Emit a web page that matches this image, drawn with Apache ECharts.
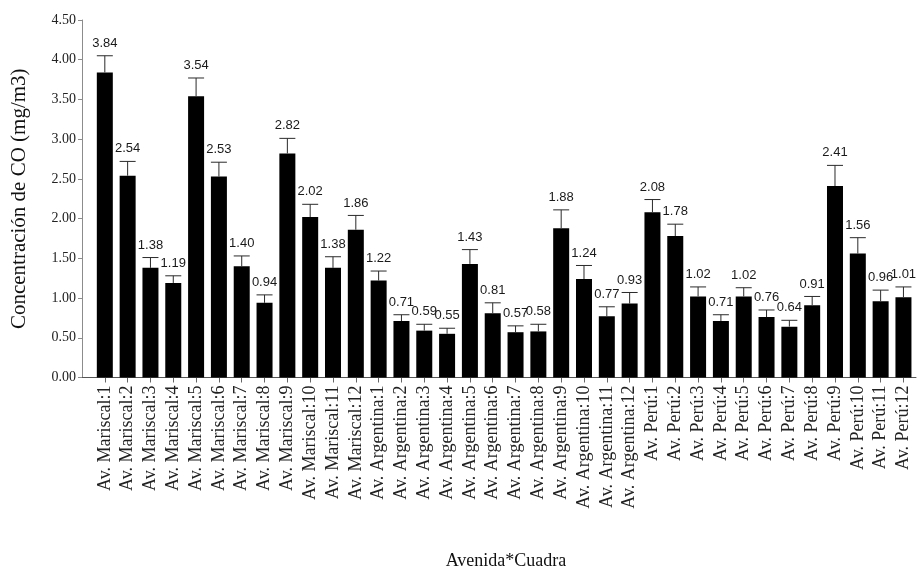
<!DOCTYPE html>
<html>
<head>
<meta charset="utf-8">
<script src="https://cdn.jsdelivr.net/npm/echarts@6/dist/echarts.min.js"></script>
<style>
  html, body { margin: 0; padding: 0; background: #fff; }
  #chart { width: 919px; height: 568px; }
</style>
</head>
<body>
<div id="chart"></div>
<script>
// Street/block combinations (Avenida*Cuadra)
const categories = [
  'Av. Mariscal:1', 'Av. Mariscal:2', 'Av. Mariscal:3', 'Av. Mariscal:4',
  'Av. Mariscal:5', 'Av. Mariscal:6', 'Av. Mariscal:7', 'Av. Mariscal:8',
  'Av. Mariscal:9', 'Av. Mariscal:10', 'Av. Mariscal:11', 'Av. Mariscal:12',
  'Av. Argentina:1', 'Av. Argentina:2', 'Av. Argentina:3', 'Av. Argentina:4',
  'Av. Argentina:5', 'Av. Argentina:6', 'Av. Argentina:7', 'Av. Argentina:8',
  'Av. Argentina:9', 'Av. Argentina:10', 'Av. Argentina:11', 'Av. Argentina:12',
  'Av. Perú:1', 'Av. Perú:2', 'Av. Perú:3', 'Av. Perú:4',
  'Av. Perú:5', 'Av. Perú:6', 'Av. Perú:7', 'Av. Perú:8',
  'Av. Perú:9', 'Av. Perú:10', 'Av. Perú:11', 'Av. Perú:12'
];

// Mean CO concentration (mg/m3)
const meanCO = [
  3.84, 2.54, 1.38, 1.19, 3.54, 2.53, 1.40, 0.94, 2.82, 2.02, 1.38, 1.86,
  1.22, 0.71, 0.59, 0.55, 1.43, 0.81, 0.57, 0.58, 1.88, 1.24, 0.77, 0.93,
  2.08, 1.78, 1.02, 0.71, 1.02, 0.76, 0.64, 0.91, 2.41, 1.56, 0.96, 1.01
];

// Upper error (standard error) for each mean
const errorCO = [
  0.21, 0.18, 0.13, 0.09, 0.23, 0.18, 0.13, 0.10, 0.19, 0.16, 0.14, 0.18,
  0.12, 0.08, 0.08, 0.07, 0.18, 0.13, 0.08, 0.09, 0.23, 0.17, 0.12, 0.14,
  0.16, 0.15, 0.12, 0.08, 0.11, 0.09, 0.08, 0.11, 0.26, 0.20, 0.14, 0.13
];

// Y axis tick values
const yTicks = [0, 0.5, 1, 1.5, 2, 2.5, 3, 3.5, 4, 4.5];

const idx = categories.map((_, i) => i);
const barData = meanCO.map((v, i) => [i, v]);
const errData = meanCO.map((v, i) => [i, v, errorCO[i]]);

const BAR_W = 16;
const serif = '"Liberation Serif", "Times New Roman", serif';
const sans = '"Liberation Sans", Arial, sans-serif';

const chart = echarts.init(document.getElementById('chart'), null, { renderer: 'canvas' });

chart.setOption({
  animation: false,
  backgroundColor: '#ffffff',
  grid: {
    left: 82, top: 20, width: 834, height: 357.5,
    containLabel: false,
    outerBoundsMode: 'none'
  },
  xAxis: {
    type: 'value',
    min: -1,
    max: 35.55,
    name: 'Avenida*Cuadra',
    nameLocation: 'middle',
    nameGap: 175,
    nameTextStyle: { fontFamily: serif, fontSize: 18, color: '#111', padding: [0, 0, 0, 14] },
    splitLine: { show: false },
    axisLine: { show: true, onZero: false, lineStyle: { color: '#555', width: 1 } },
    axisTick: { show: true, length: 5, customValues: idx, lineStyle: { color: '#666' } },
    axisLabel: {
      customValues: idx,
      rotate: 90,
      margin: 8,
      fontFamily: serif,
      fontSize: 18,
      color: '#222',
      formatter: v => categories[Math.round(v)] || ''
    }
  },
  yAxis: {
    type: 'value',
    min: 0,
    max: 4.5,
    name: 'Concentración de CO (mg/m3)',
    nameLocation: 'middle',
    nameGap: 52,
    nameTextStyle: { fontFamily: serif, fontSize: 21, color: '#111' },
    splitLine: { show: false },
    axisLine: { show: true, onZero: false, lineStyle: { color: '#8c8c8c', width: 1 } },
    axisTick: { show: true, length: 4, customValues: yTicks, lineStyle: { color: '#8c8c8c' } },
    axisLabel: {
      customValues: yTicks,
      margin: 6,
      fontFamily: serif,
      fontSize: 14,
      color: '#222',
      formatter: v => v.toFixed(2)
    }
  },
  series: [
    {
      type: 'bar',
      data: barData,
      barWidth: BAR_W,
      itemStyle: { color: '#000' },
      z: 2
    },
    {
      type: 'custom',
      data: errData,
      z: 3,
      renderItem: function (params, api) {
        const i = api.value(0);
        const v = api.value(1);
        const e = api.value(2);
        const base = api.coord([i, v]);
        const top = api.coord([i, v + e]);
        const half = BAR_W / 2;
        const stroke = { stroke: '#2a2a2a', lineWidth: 1 };
        return {
          type: 'group',
          children: [
            {
              type: 'line',
              shape: { x1: base[0], y1: base[1], x2: top[0], y2: top[1] },
              style: stroke
            },
            {
              type: 'line',
              shape: { x1: top[0] - half, y1: top[1], x2: top[0] + half, y2: top[1] },
              style: stroke
            },
            {
              type: 'text',
              style: {
                text: v.toFixed(2),
                x: top[0],
                y: top[1] - 6,
                textAlign: 'center',
                textVerticalAlign: 'bottom',
                font: '13px ' + sans,
                fill: '#1a1a1a'
              }
            }
          ]
        };
      }
    }
  ]
});
</script>
</body>
</html>
